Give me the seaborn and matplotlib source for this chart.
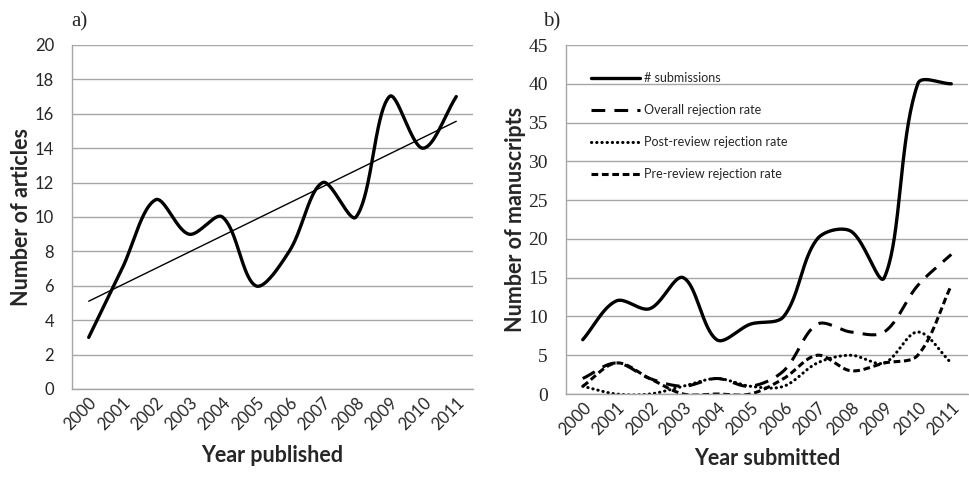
import numpy as np
import pandas as pd
import seaborn as sns
import matplotlib.pyplot as plt

years = [str(y) for y in range(2000, 2012)]
articles = [3, 7, 11, 9, 10, 6, 8, 12, 10, 17, 14, 17]
submissions = [7, 12, 11, 15, 7, 9, 10, 20, 21, 15, 40, 40]
overall = [2, 4, 2, 1, 2, 1, 3, 9, 8, 8, 14, 18]
post_review = [1, 0, 0, 1, 2, 1, 1, 4, 5, 4, 8, 4]
pre_review = [1, 4, 2, 0, 0, 0, 2, 5, 3, 4, 5, 14]

GRID = "#a6a6a6"
SERIF = "Liberation Serif"
SANS = "Lato"


def smooth(vals, xpx, ypx, n=40):
    # Excel-like smoothed line: bezier segments through every point,
    # tangents weighted by the on-screen segment lengths
    p = np.column_stack([np.arange(len(vals)), vals]).astype(float)
    ext = np.vstack([p[0], p, p[-1]])
    scale = np.array([xpx, ypx])
    t = np.linspace(0, 1, n)[:, None]
    xs, ys = [], []
    for i in range(len(p) - 1):
        p0, p1, p2, p3 = ext[i], ext[i + 1], ext[i + 2], ext[i + 3]
        d01 = np.linalg.norm((p1 - p0) * scale)
        d12 = np.linalg.norm((p2 - p1) * scale)
        d23 = np.linalg.norm((p3 - p2) * scale)
        b1 = p1 + (p2 - p0) * d12 / (d01 + d12) / 3
        b2 = p2 - (p3 - p1) * d12 / (d12 + d23) / 3
        seg = (1 - t) ** 3 * p1 + 3 * (1 - t) ** 2 * t * b1 + 3 * (1 - t) * t ** 2 * b2 + t ** 3 * p2
        xs.append(seg[:, 0])
        ys.append(seg[:, 1])
    return pd.DataFrame({"x": np.concatenate(xs), "y": np.concatenate(ys)})


def style_axes(ax, ymax, ystep, xlabel, ylabel, yfont, ysize, xlab_y):
    n = len(years)
    ax.set_xlim(-0.5, n - 0.5)
    ax.set_ylim(0, ymax)
    ax.set_yticks(np.arange(0, ymax + 1, ystep))
    ax.set_xticks(range(n))
    ax.set_xticklabels(years, rotation=45, ha="right", va="top", rotation_mode="anchor",
                       family=SANS, fontsize=12)
    ax.set_xticks(np.arange(-0.5, n), minor=True)
    ax.tick_params(axis="x", which="major", length=0, pad=4)
    ax.tick_params(axis="x", which="minor", length=5, color=GRID, direction="out")
    ax.tick_params(axis="y", length=4, color=GRID, direction="out", pad=9)
    for lab in ax.get_yticklabels():
        lab.set_family(yfont)
        lab.set_fontsize(ysize)
    ax.yaxis.grid(True, color=GRID, lw=1)
    ax.set_axisbelow(True)
    for s in ["top", "right"]:
        ax.spines[s].set_visible(False)
    for s in ["left", "bottom"]:
        ax.spines[s].set_color(GRID)
        ax.spines[s].set_linewidth(1)
    ax.set_xlabel(xlabel, family=SANS, fontsize=15.5, fontweight="bold")
    ax.xaxis.set_label_coords(0.5, xlab_y)
    ax.set_ylabel(ylabel, family=SANS, fontsize=15.5, fontweight="bold", labelpad=2)


sns.set_style("white")
fig = plt.figure(figsize=(9.69, 4.78), dpi=100)
ax1 = fig.add_axes([0.0743, 0.1862, 0.4138, 0.7197])
ax2 = fig.add_axes([0.5841, 0.1757, 0.4149, 0.7301])

# a) articles per year with linear trend
sns.lineplot(data=smooth(articles, 33.4, 17.2), x="x", y="y", sort=False, estimator=None,
             color="black", lw=2.4, ax=ax1)
sns.regplot(x=np.arange(len(articles)), y=np.array(articles, dtype=float), scatter=False,
            ci=None, truncate=True, color="black", line_kws={"lw": 1}, ax=ax1)
style_axes(ax1, 20, 2, "Year published", "Number of articles", SANS, 12, -0.163)
fig.text(0.074, 0.975, "a)", family=SERIF, fontsize=15, va="top")

# b) manuscripts
series = [
    ("# submissions", submissions, "-", 2.4),
    ("Overall rejection rate", overall, (0, (4.5, 3)), 2.2),
    ("Post-review rejection rate", post_review, (0, (0.1, 1.6)), 2.2),
    ("Pre-review rejection rate", pre_review, (0, (2.2, 1.2)), 2.2),
]
for label, vals, ls, lw in series:
    sns.lineplot(data=smooth(vals, 33.9, 7.76), x="x", y="y", sort=False, estimator=None,
                 color="black", lw=lw, linestyle=ls, label=label, ax=ax2)
for ln in ax2.get_lines():
    ln.set_dash_capstyle("round" if ln.get_label().startswith("Post") else "butt")
style_axes(ax2, 45, 5, "Year submitted", "Number of manuscripts", SERIF, 14, -0.155)
ax2.legend(loc="upper left", bbox_to_anchor=(0.035, 0.955), frameon=False,
           handlelength=3.9, labelspacing=1.6, handletextpad=0.35,
           prop={"family": SANS, "size": 9})
fig.text(0.56, 0.975, "b)", family=SERIF, fontsize=15, va="top")

fig.savefig("out.png", dpi=100)
